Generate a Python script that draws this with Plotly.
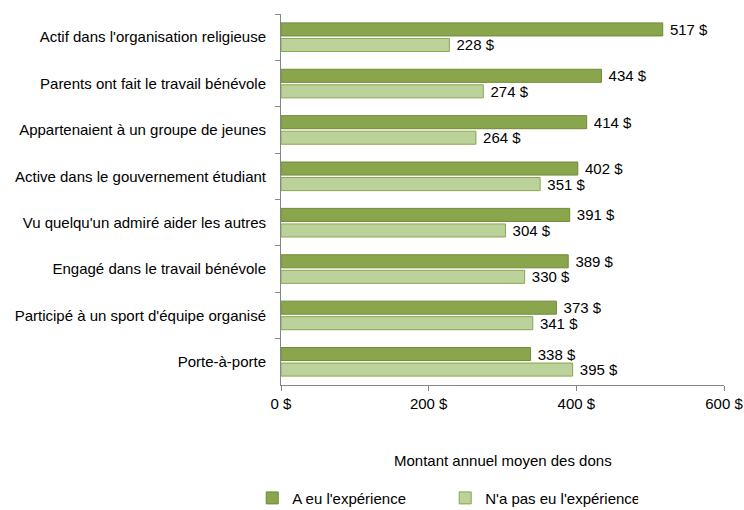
import plotly.graph_objects as go

categories = [
    "Actif dans l'organisation religieuse",
    "Parents ont fait le travail bénévole",
    "Appartenaient à un groupe de jeunes",
    "Active dans le gouvernement étudiant",
    "Vu quelqu'un admiré aider les autres",
    "Engagé dans le travail bénévole",
    "Participé à un sport d'équipe organisé",
    "Porte-à-porte",
]
had_experience = [517, 434, 414, 402, 391, 389, 373, 338]
no_experience = [228, 274, 264, 351, 304, 330, 341, 395]
x_ticks = [0, 200, 400, 600]
x_tick_labels = ["0 $", "200 $", "400 $", "600 $"]

FONT = "Liberation Sans, Arial, sans-serif"
FS = 15

fig = go.Figure()
fig.add_trace(go.Bar(
    y=categories, x=had_experience, orientation="h",
    name="A eu l'expérience",
    marker=dict(color="#8aa64d", line=dict(color="#6f8a37", width=1)),
    texttemplate=" %{x} $", textposition="outside", cliponaxis=False,
    constraintext="none",
    textfont=dict(size=FS, color="#000000", family=FONT),
))
fig.add_trace(go.Bar(
    y=categories, x=no_experience, orientation="h",
    name="N'a pas eu l'expérience",
    marker=dict(color="#bcd29b", line=dict(color="#8aa64d", width=1)),
    texttemplate=" %{x} $", textposition="outside", cliponaxis=False,
    constraintext="none",
    textfont=dict(size=FS, color="#000000", family=FONT),
))

fig.update_layout(
    width=744, height=510,
    margin=dict(l=281, r=20, t=14, b=125, autoexpand=False),
    paper_bgcolor="white", plot_bgcolor="white",
    font=dict(family=FONT, size=FS, color="#000000"),
    barmode="group", bargap=0.33, bargroupgap=0.16,
    showlegend=True,
    legend=dict(
        orientation="h", x=-0.065, y=-0.305, xanchor="left", yanchor="middle",
        font=dict(size=FS), entrywidth=148, traceorder="normal",
        itemwidth=30,
    ),
    annotations=[dict(
        text="Montant annuel moyen des dons", x=0.5, y=-0.203,
        xref="paper", yref="paper", xanchor="center", yanchor="middle",
        showarrow=False, font=dict(size=FS),
    )],
)
fig.update_xaxes(
    range=[0, 600], tickvals=x_ticks, ticktext=x_tick_labels,
    showgrid=False, zeroline=False,
    showline=True, linecolor="#868686", linewidth=1,
    ticks="outside", ticklen=5, tickcolor="#868686",
    tickfont=dict(size=FS),
)
fig.update_yaxes(
    autorange="reversed", showgrid=False,
    showline=True, linecolor="#868686", linewidth=1,
    ticks="outside", ticklen=5, tickcolor="#868686", tickson="boundaries",
    tickfont=dict(size=FS), ticklabelstandoff=11,
)

fig.write_html("out.html")
